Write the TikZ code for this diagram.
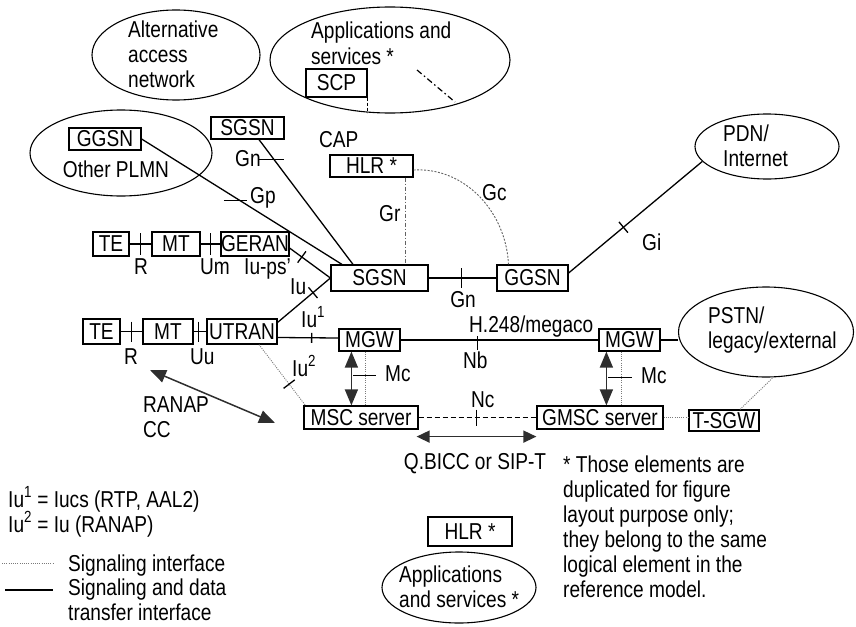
\documentclass[tikz,border=0pt]{standalone}
\usepackage{fontspec}
\setmainfont{Liberation Sans}[FakeStretch=0.83]
\usetikzlibrary{shapes.geometric,arrows.meta,calc}
\newcommand{\dfont}{\fontsize{23}{25}\selectfont}
\definecolor{arrowgray}{HTML}{2E2E2E}
\definecolor{siggray}{HTML}{7A7A7A}
% perpendicular tick across the segment #1--#2 at fraction #3, half length #4
\newcommand{\crosstick}[4]{%
  \coordinate (tk) at ($(#1)!#3!(#2)$);
  \draw[tick] ($(tk)!#4!90:(#2)$) -- ($(tk)!#4!-90:(#2)$);}
\begin{document}
\begin{tikzpicture}[x=1pt,y=-1pt,
  every node/.style={font=\dfont, inner sep=0pt},
  box/.style={draw, line width=1.2pt},
  oval/.style={draw, ellipse, line width=1.1pt, inner sep=0pt},
  lbl/.style={anchor=base west},
  data/.style={line width=1.3pt},
  heavy/.style={line width=2pt},
  sig/.style={siggray, line width=0.9pt, dash pattern=on 1pt off 1.2pt},
  gcline/.style={siggray!80!black, line width=0.9pt, dash pattern=on 2pt off 1.5pt},
  grline/.style={siggray!80!black, line width=0.9pt, dash pattern=on 4pt off 2pt on 1pt off 2pt},
  tick/.style={line width=1.3pt},
  dblarrow/.style={arrowgray, line width=1.5pt,
    {Triangle[length=16pt,width=13pt]}-{Triangle[length=16pt,width=13pt]}},
  dblarrowsm/.style={arrowgray, line width=1.5pt,
    {Triangle[length=13pt,width=12pt]}-{Triangle[length=13pt,width=12pt]}}
]
\useasboundingbox (0,0) rectangle (856,626);

% ---------- clouds (multi-line texts are placed by their last baseline) ----------
\node[oval, minimum width=168, minimum height=90] (altnet) at (176,55) {};
\node[lbl, align=left] (alttext) at (128,87) {Alternative\\access\\network};

\node[oval, minimum width=240, minimum height=106] (apps) at (390,60) {};
\node[lbl, align=left] (appstext) at (311,64) {Applications and\\services *};
\node[box, minimum width=61, minimum height=28] (scp) at (336.5,83) {SCP};
\draw[line width=0.8pt, dash pattern=on 3pt off 2pt] (scp.south east) -- ++(0,15);
\coordinate (dd1) at (417,70);
\coordinate (dd2) at (455,102);
\draw[line width=1.2pt, dash pattern=on 6pt off 3pt on 1.5pt off 3pt] (dd1) -- (dd2);

\node[oval, minimum width=182, minimum height=86] (plmn) at (121,153) {};
\node[box, minimum width=72, minimum height=22] (ggsnB) at (105,139) {GGSN};
\node[anchor=base] (plmntext) at (116,177) {Other PLMN};

\node[oval, minimum width=144, minimum height=65] (pdn) at (767,146.5) {};
\node[lbl, align=left] (pdntext) at (723,166) {PDN/\\Internet};

\node[oval, minimum width=175, minimum height=90] (pstn) at (766,332) {};
\node[lbl, align=left] (pstntext) at (708,348) {PSTN/\\legacy/external};

% ---------- core nodes ----------
\node[box, minimum width=73, minimum height=22] (sgsnT) at (247.5,128) {SGSN};
\node[box, minimum width=83, minimum height=22] (hlrT) at (371.5,166) {HLR *};
\node[lbl] (cap) at (319,147) {CAP};

\node[box, minimum width=36, minimum height=24] (te1) at (111,244) {TE};
\node[box, minimum width=48, minimum height=24] (mt1) at (176,244) {MT};
\node[box, minimum width=66, minimum height=24] (geran) at (255,244) {GERAN};

\node[box, minimum width=37, minimum height=25] (te2) at (101.5,331.5) {TE};
\node[box, minimum width=50, minimum height=25] (mt2) at (168,331.5) {MT};
\node[box, minimum width=70, minimum height=25] (utran) at (242,331.5) {UTRAN};

\node[box, minimum width=97, minimum height=26] (sgsn) at (379.5,278) {SGSN};
\node[box, minimum width=71, minimum height=26] (ggsn) at (532.5,278) {GGSN};

\node[box, minimum width=61, minimum height=22] (mgwL) at (369.5,340) {MGW};
\node[box, minimum width=61, minimum height=22] (mgwR) at (629.5,340) {MGW};
\node[box, minimum width=114, minimum height=23] (msc) at (361,417.5) {MSC server};
\node[box, minimum width=126, minimum height=23] (gmsc) at (600,417.5) {GMSC server};
\node[box, minimum width=70, minimum height=21] (tsgw) at (724,420.5) {T-SGW};

% ---------- terminal chains ----------
\draw[data] (te1) -- (mt1);
\draw[data] (mt1) -- (geran);
\crosstick{te1.east}{mt1.west}{0.5}{11pt}
\crosstick{mt1.east}{geran.west}{0.5}{11pt}
\node[anchor=base] (r1) at (141,274) {R};
\node[lbl] (um) at (200,274) {Um};
\node[lbl] (iups) at (244,274) {Iu-ps'};

\draw[data] (te2) -- (mt2);
\draw[data] (mt2) -- (utran);
\crosstick{te2.east}{mt2.west}{0.5}{10pt}
\crosstick{mt2.east}{utran.west}{0.4}{10pt}
\node[anchor=base] (r2) at (131,364) {R};
\node[lbl] (uu) at (190,364) {Uu};

% ---------- access to SGSN ----------
\coordinate (gerOut) at ($(geran.east)+(0,4)$);
\draw[data] (gerOut) -- (sgsn.west);
\crosstick{gerOut}{sgsn.west}{0.3}{7pt}

\coordinate (utrOut) at ($(utran.north east)+(0,4)$);
\draw[data] (utrOut) -- (sgsn.west);
\crosstick{utrOut}{sgsn.west}{0.67}{7pt}
\node[lbl] (iu) at (290,294) {Iu};

% Gn from the other SGSN
\coordinate (sgsnTout) at ($(sgsnT.south)+(11.5,0)$);
\coordinate (sgsnTin) at ($(sgsn.north)+(-26.5,0)$);
\draw[data] (sgsnTout) -- (sgsnTin);
\coordinate (gnT) at ($(sgsnTout)!0.16!(sgsnTin)$);
\draw[tick] ($(gnT)+(-15,0)$) -- ($(gnT)+(10,0)$);
\node[lbl] (gnTlbl) at (235,166) {Gn};

% Gp from the other PLMN
\coordinate (gpIn) at ($(sgsn.north)+(-37.5,0)$);
\draw[data] (ggsnB.east) -- (gpIn);
\coordinate (gpT) at ($(ggsnB.east)!0.49!(gpIn)$);
\draw[tick] ($(gpT)+(-16,0)$) -- ($(gpT)+(7,0)$);
\node[lbl] (gplbl) at (250,203) {Gp};

% Gr and Gc towards the HLR
\coordinate (grtop) at ($(hlrT.south east)+(-8,0)$);
\draw[grline] (grtop) -- (grtop |- sgsn.north);
\node[lbl] (grlbl) at (379,221) {Gr};
\coordinate (gcStart) at ($(hlrT.east)+(0,4)$);
\coordinate (gcEnd) at ($(ggsn.north)+(-24,0)$);
\draw[gcline] (gcStart) .. controls (465,167) and (506,212) .. (gcEnd);
\node[lbl] (gclbl) at (482,200) {Gc};

% Gn between SGSN and GGSN
\draw[heavy] (sgsn) -- (ggsn);
\crosstick{sgsn.east}{ggsn.west}{0.49}{10pt}
\node[anchor=base] (gnlbl) at (463,307) {Gn};

% Gi to the PDN
\coordinate (giOut) at ($(ggsn.east)+(0,-5)$);
\draw[data] (giOut) -- (pdn.193);
\crosstick{giOut}{pdn.193}{0.41}{7pt}
\node[lbl] (gilbl) at (642,250) {Gi};

% ---------- circuit domain ----------
\coordinate (utrMg) at ($(utran.east)+(0,6)$);
\coordinate (mgIn) at ($(mgwL.west)+(0,-2)$);
\draw[data] (utrMg) -- (mgIn);
\crosstick{utrMg}{mgIn}{0.56}{5pt}
\node[lbl] (iu1) at (301,327) {Iu\textsuperscript{1}};

\coordinate (utrSig) at ($(utran.south)+(17,0)$);
\coordinate (mscSig) at ($(msc.north west)+(2,0)$);
\draw[sig] (utrSig) -- (mscSig);
\crosstick{utrSig}{mscSig}{0.65}{7pt}
\node[lbl] (iu2) at (292,376) {Iu\textsuperscript{2}};

\draw[data] (mgwL) -- (mgwR);
\coordinate (nbT) at ($(mgwL.east)!0.387!(mgwR.west)$);
\draw[tick] ($(nbT)+(0,-4)$) -- ($(nbT)+(0,10)$);
\node[lbl] (h248) at (469,332) {H.248/megaco};
\node[lbl] (nb) at (463,368) {Nb};

\draw[heavy] (mgwR.east) -- (mgwR.east -| pstn.west);

% Mc, left
\coordinate (mcL) at ($(mgwL.south west)+(13,0)$);
\draw[dblarrow] (mcL) -- (mcL |- msc.north);
\coordinate (mcLs) at ($(mgwL.south west)+(27,0)$);
\draw[sig] (mcLs) -- (mcLs |- msc.north);
\draw[tick] ($(mcL)+(2,24)$) -- ($(mcL)+(25,24)$);
\node[lbl] (mcLlbl) at (385,381) {Mc};

% Mc, right
\coordinate (mcR) at ($(mgwR.south west)+(8,0)$);
\draw[dblarrow] (mcR) -- (mcR |- gmsc.north);
\coordinate (mcRs) at ($(mgwR.south west)+(23,0)$);
\draw[sig] (mcRs) -- (mcRs |- gmsc.north);
\draw[tick] ($(mcR)+(2,26)$) -- ($(mcR)+(26,26)$);
\node[lbl] (mcRlbl) at (641,383) {Mc};

% Nc between the servers
\draw[line width=1.4pt, dash pattern=on 5pt off 3pt] (msc) -- (gmsc);
\crosstick{msc.east}{gmsc.west}{0.49}{8pt}
\node[lbl] (nclbl) at (471,407) {Nc};

\coordinate (bicL) at ($(msc.south east)+(-2,7)$);
\coordinate (bicR) at ($(gmsc.south west)+(0,7)$);
\draw[dblarrowsm] (bicL) -- (bicR);
\node[anchor=base] (biclbl) at (475,469) {Q.BICC or SIP-T};

% T-SGW
\draw[sig] (gmsc.east) -- (gmsc.east -| tsgw.west);
\coordinate (tsgUp) at ($(tsgw.north)+(16,0)$);
\draw[sig] (tsgUp) -- (pstn.279);

% RANAP / CC
\coordinate (ranA) at (150,370);
\coordinate (ranB) at (275,423);
\draw[dblarrow] (ranA) -- (ranB);
\node[lbl, align=left] (ranap) at (143,437) {RANAP\\CC};

% ---------- duplicates and notes ----------
\node[box, minimum width=84, minimum height=29] (hlr2) at (470,531.5) {HLR *};
\node[oval, minimum width=154, minimum height=71] (apps2) at (459,587.5) {};
\node[lbl, align=left] (apps2text) at (399,607) {Applications\\and services *};

\node[lbl, align=left] (note) at (563,597) {* Those elements are\\duplicated for figure\\layout purpose only;\\they belong to the same\\logical element in the\\reference model.};

% ---------- legend ----------
\node[lbl] (leg1) at (8,507) {Iu\textsuperscript{1} = Iucs (RTP, AAL2)};
\node[lbl] (leg2) at (8,532) {Iu\textsuperscript{2} = Iu (RANAP)};
\coordinate (ls1) at (2,563);
\coordinate (ls2) at (53,563);
\draw[sig] (ls1) -- (ls2);
\node[lbl] (leg3) at (68,571) {Signaling interface};
\coordinate (ld1) at (5,590);
\coordinate (ld2) at (53,590);
\draw[data] (ld1) -- (ld2);
\node[lbl, align=left] (leg4) at (68,620) {Signaling and data\\transfer interface};
\end{tikzpicture}
\end{document}
